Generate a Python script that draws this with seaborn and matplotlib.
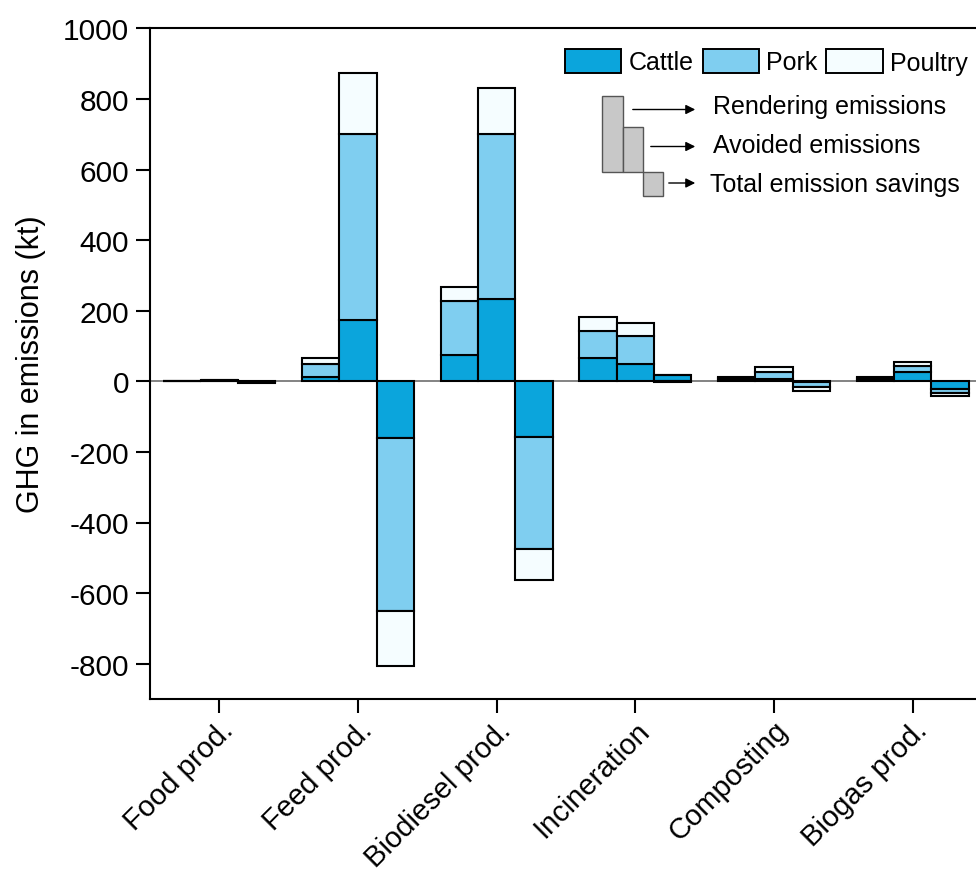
import numpy as np
import matplotlib
matplotlib.use("Agg")
import matplotlib.pyplot as plt
from matplotlib.patches import Patch, Rectangle, FancyArrowPatch
import seaborn as sns

# Rendering pathways
categories = ["Food prod.", "Feed prod.", "Biodiesel prod.", "Incineration", "Composting", "Biogas prod."]

# GHG (kt) per species: rendering emissions
rendering_cattle = [0.3, 13, 75, 66, 5, 5]
rendering_pork = [0.2, 37, 152, 77, 5, 5]
rendering_poultry = [0.1, 16, 41, 38, 3, 3]

# Avoided emissions
avoided_cattle = [2.0, 175, 233, 49, 7, 26]
avoided_pork = [1.5, 525, 468, 78.5, 20, 17]
avoided_poultry = [0.8, 173, 129, 37.5, 13, 12]

# Total emission savings
total_cattle = [-1.7, -162, -158, 17, -2, -21]
total_pork = [-1.3, -488, -316, -1.5, -15, -12]
total_poultry = [-0.7, -157, -88, 0.5, -10, -9]

species = ["Cattle", "Pork", "Poultry"]
colors = {"Cattle": "#0BA5DC", "Pork": "#7FCEF0", "Poultry": "#F5FDFF"}

sns.set_theme(style="ticks")
plt.rcParams["font.family"] = ["Liberation Sans", "DejaVu Sans"]
plt.rcParams["axes.unicode_minus"] = False
for key in ["text.color", "axes.labelcolor", "xtick.color", "ytick.color", "axes.edgecolor"]:
    plt.rcParams[key] = "black"

W, H = 976, 878
fig = plt.figure(figsize=(W / 100, H / 100), dpi=100)
ax = fig.add_axes([150 / W, 1 - 700 / H, (982 - 150) / W, (700 - 29.3) / H])


def fxy(px, py):
    """Pixel position (from top-left) to figure fraction."""
    return px / W, 1 - py / H


groups = [
    (-1, [rendering_cattle, rendering_pork, rendering_poultry]),
    (0, [avoided_cattle, avoided_pork, avoided_poultry]),
    (1, [total_cattle, total_pork, total_poultry]),
]
bar_w = 0.27
x = np.arange(len(categories))

for offset, layers in groups:
    pos_base = np.zeros(len(categories))
    neg_base = np.zeros(len(categories))
    for name, vals in zip(species, layers):
        vals = np.asarray(vals, dtype=float)
        bottom = np.where(vals >= 0, pos_base, neg_base)
        ax.bar(x + offset * bar_w, vals, width=bar_w, bottom=bottom,
               color=colors[name], edgecolor="black", linewidth=1.5, zorder=3)
        pos_base = pos_base + np.clip(vals, 0, None)
        neg_base = neg_base + np.clip(vals, None, 0)

ax.axhline(0, color="#7a7a7a", lw=1.3, zorder=2)

ax.set_xlim(-0.5, 5.5)
ax.set_ylim(-900, 1000)
ax.set_yticks(np.arange(-800, 1001, 200))
ax.set_xticks(x)
ax.set_xticklabels(categories, rotation=45, ha="right", va="top",
                   rotation_mode="anchor", fontsize=21)
ax.tick_params(axis="y", labelsize=21.5, pad=5)
ax.tick_params(direction="out", length=10, width=1.5, color="black")
ax.tick_params(axis="x", pad=2)
ax.set_ylabel("GHG in emissions (kt)", fontsize=22, labelpad=12)
for s in ["left", "bottom", "top"]:
    ax.spines[s].set_linewidth(1.5)
    ax.spines[s].set_color("black")
ax.spines["right"].set_visible(False)
ax.grid(False)

# Species legend
handles = [Patch(facecolor=colors[s], edgecolor="black", linewidth=1.4, label=s) for s in species]
fig.legend(handles=handles, loc="upper left", bbox_to_anchor=fxy(565, 50),
           ncol=3, frameon=False, fontsize=18, borderpad=0, borderaxespad=0,
           handlelength=2.25, handleheight=1.1, handletextpad=0.3, columnspacing=0.35)

# Key for the three bars of each pathway
gray = "#C8C8C8"
for (x0, y0, x1, y1) in [(602, 96.7, 623, 172.7), (623, 128, 643, 172.7), (643, 172.7, 663, 197)]:
    (fx0, fy1), (fx1, fy0) = fxy(x0, y0), fxy(x1, y1)
    fig.add_artist(Rectangle((fx0, fy0), fx1 - fx0, fy1 - fy0, transform=fig.transFigure,
                             facecolor=gray, edgecolor="#555555", linewidth=1.0))

key_rows = [("Rendering emissions", 630, 110.5, 114, 713), ("Avoided emissions", 648, 147.5, 153, 713),
            ("Total emission savings", 666, 184, 192, 710)]
for label, ax0, ay, by, tx in key_rows:
    fig.add_artist(FancyArrowPatch(
        fxy(ax0, ay), fxy(698, ay), transform=fig.transFigure,
        arrowstyle="-|>", mutation_scale=14, color="black", linewidth=1.0))
    fig.text(*fxy(tx, by), label, fontsize=18, va="baseline", ha="left")

fig.savefig("out.png", dpi=100)
